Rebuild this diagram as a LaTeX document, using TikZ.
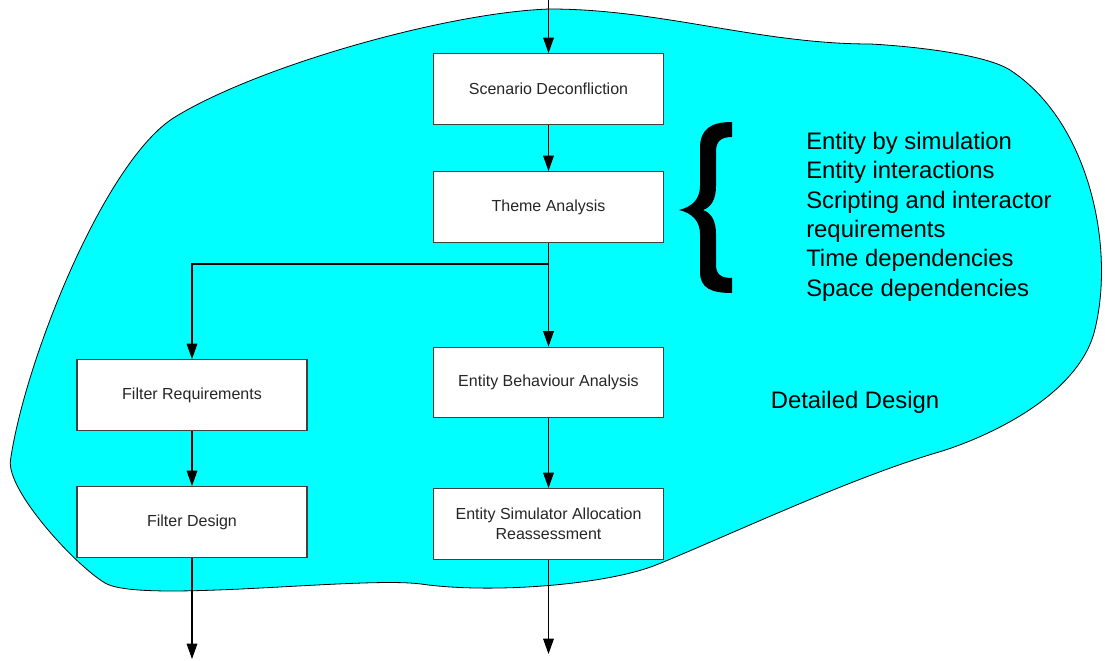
\documentclass[tikz,border=0pt]{standalone}
\usepackage{fontspec}
\setmainfont{Liberation Sans}
\usetikzlibrary{arrows.meta}
\definecolor{regioncyan}{RGB}{0,255,255}
\begin{document}
\begin{tikzpicture}[x=0.75pt,y=-0.75pt,
  procbox/.style={draw=black!75, line width=0.9pt, fill=white,
    minimum width=172.5pt, minimum height=53pt, inner sep=2pt,
    align=center, font=\fontsize{12}{15}\selectfont, text=black!85},
  flow/.style={draw=black, line width=0.8pt,
    -{Triangle[width=8pt,length=11.5pt]}},
  bigtext/.style={font=\fontsize{17.9}{22}\selectfont, text=black, inner sep=0pt},
]
\useasboundingbox (0,0) rectangle (1105,660);

% cyan region of the detailed design phase
\draw[fill=regioncyan, draw=black, line width=0.6pt]
  (550,9) .. controls (450,12) and (260,65) .. (175,117)
  .. controls (105,160) and (25,360) .. (10.5,460)
  .. controls (6,490) and (75,565) .. (105,583)
  .. controls (140,604) and (360,576) .. (421,584)
  .. controls (490,594) and (606,585) .. (656,565)
  .. controls (730,535) and (850,478) .. (939,452)
  .. controls (979,440) and (1075,400) .. (1094,333)
  .. controls (1116,250) and (1090,122) .. (1010,70)
  .. controls (985,54) and (910,46) .. (870,44)
  .. controls (760,44) and (660,9) .. (550,9) -- cycle;

% process boxes
\node[procbox] (deconf) at (548.5,89)  {Scenario Deconfliction};
\node[procbox] (theme)  at (548.5,207) {Theme Analysis};
\node[procbox] (behav)  at (548.5,382.5) {Entity Behaviour Analysis};
\node[procbox] (alloc)  at (548.5,524) {Entity Simulator Allocation\\Reassessment};
\node[procbox] (freq)   at (192,395)   {Filter Requirements};
\node[procbox] (fdes)   at (192,522)   {Filter Design};

% free ends and branch point
\coordinate (entry) at (548.5,0);
\coordinate (split) at (548.5,264);
\coordinate (exitL) at (192,659);
\coordinate (exitR) at (548.5,654);

% connectors
\draw[flow] (entry) -- (deconf);
\draw[flow] (deconf) -- (theme);
\draw[flow] (theme) -- (behav);
\draw[flow] (split) -| (freq);
\draw[flow] (freq) -- (fdes);
\draw[flow] (behav) -- (alloc);
\draw[flow] (fdes) -- (exitL);
\draw[flow] (alloc) -- (exitR);

% curly brace
\fill[black] (732,122) .. controls (711,122) and (700,129) .. (700,148)
  -- (700,186) .. controls (700,199) and (692,207) .. (679,210)
  .. controls (692,213) and (700,221) .. (700,234)
  -- (700,272) .. controls (700,288) and (711,293) .. (732,293)
  -- (732,278) .. controls (720,278) and (716,274) .. (716,264)
  -- (716,234) .. controls (716,222) and (712,213) .. (703,210)
  .. controls (712,207) and (716,198) .. (716,186)
  -- (716,152) .. controls (716,142) and (720,137) .. (732,137) -- cycle;

% design concerns
\node[bigtext, anchor=north west, align=left] (concerns) at (806,132)
  {Entity by simulation\\Entity interactions\\Scripting and interactor\\requirements\\Time dependencies\\Space dependencies};

\node[bigtext, anchor=base] (phase) at (855,408) {Detailed Design};
\end{tikzpicture}
\end{document}
